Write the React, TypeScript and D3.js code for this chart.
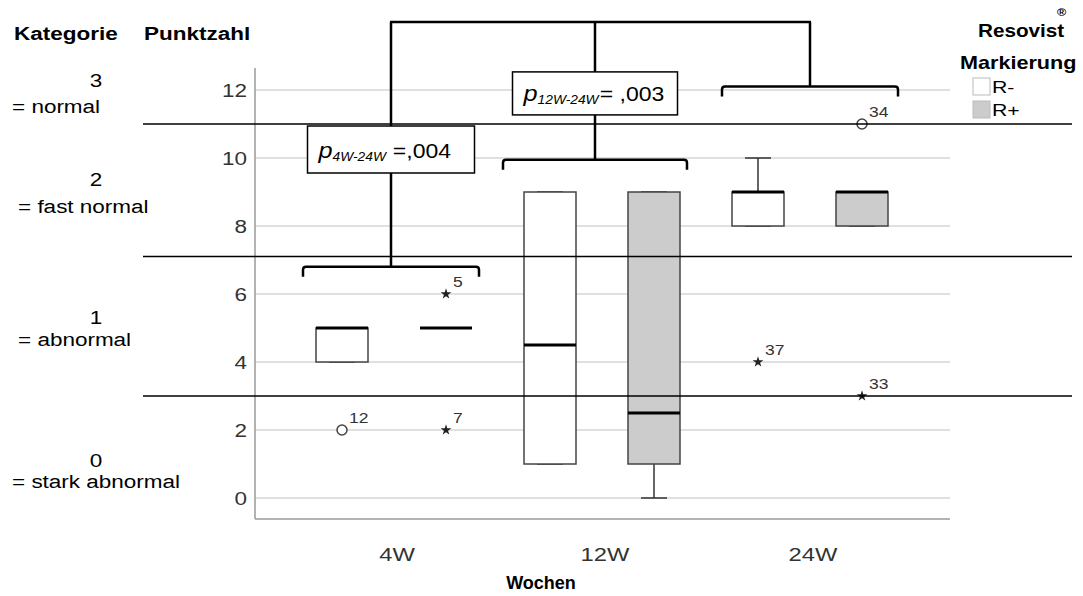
import React from "react";
import * as d3 from "d3";

// ---------- data ----------
const weeks = ["4W", "12W", "24W"];
const groups = ["R-", "R+"];
const groupFill = ["#ffffff", "#cccccc"];

// box statistics per week and group: [whiskerLow, q1, median, q3, whiskerHigh]
const boxR_minus = [
  [4, 4, 5, 5, 5],
  [1, 1, 4.5, 9, 9],
  [8, 8, 9, 9, 10],
];
const boxR_plus = [
  [5, 5, 5, 5, 5],
  [0, 1, 2.5, 9, 9],
  [8, 8, 9, 9, 9],
];

// outliers: week, group, value, case label, kind
const outlierWeek = ["4W", "4W", "4W", "24W", "24W", "24W"];
const outlierGroup = ["R-", "R+", "R+", "R-", "R+", "R+"];
const outlierValue = [2, 6, 2, 4, 11, 3];
const outlierLabel = ["12", "5", "7", "37", "34", "33"];
const outlierKind = ["circle", "star", "star", "star", "circle", "star"];

const yTicks = [0, 2, 4, 6, 8, 10, 12];
const categoryBounds = [11, 7.1, 3];
const categoryScores = ["3", "2", "1", "0"];
const categoryNames = ["= normal", "= fast normal", "= abnormal", "= stark abnormal"];

const bracketWeeks = ["4W", "12W", "24W"];
const bracketLevels = [6.8, 9.95, 12.1];
const topLevel = 14;

const pSubs = ["4W-24W", "12W-24W"];
const pValues = ["=,004", "= ,003"];

// ---------- layout ----------
const W = 1083;
const H = 596;
const SX = 1.25;
const FONT = "'Liberation Sans', Arial, Helvetica, sans-serif";

const y = d3.scaleLinear().domain([0, 12]).range([498, 90]);
const x = d3.scaleBand<string>().domain(weeks).range([290, 914]).padding(0);
const xg = d3.scalePoint<string>().domain(groups).range([-52, 52]);
const boxW = 52;
const axisX = 255;
const plotRight = 950;

function T({ x, y, anchor = "start", size = 17, weight = "normal", fill = "#000", style = "normal", sx = SX, children }: any) {
  return (
    <g transform={`translate(${x},${y}) scale(${sx},1)`}>
      <text
        x={0}
        y={0}
        textAnchor={anchor}
        fontSize={size}
        fontWeight={weight}
        fontStyle={style}
        fill={fill}
        fontFamily={FONT}
      >
        {children}
      </text>
    </g>
  );
}

const cx = (w: string) => (x(w) as number) + x.bandwidth() / 2;

export default function App() {
  const star = d3.symbol().type(d3.symbolStar).size(36)() as string;
  const boxes: any[] = [];
  weeks.forEach((w, i) => {
    [boxR_minus[i], boxR_plus[i]].forEach((s, gi) => {
      boxes.push({ w, g: groups[gi], s, fill: groupFill[gi] });
    });
  });

  const catTop = 12.9;
  const catBottom = -0.62;
  const edges = [catTop, ...categoryBounds, catBottom];
  const labelShift = [[-5, 21], [-4, 23], [-2, 20], [9, 30]];

  const pBoxW = [167, 165];
  const pBoxH = [47, 43];
  const pBoxCenterVal = [10.25, 11.9];

  return (
    <svg width={W} height={H} style={{ position: "absolute", left: 0, top: 0, background: "#fff" }}>
      <rect x={0} y={0} width={W} height={H} fill="#fff" />
      {/* gridlines */}
      {yTicks.map((t) => (
        <line key={t} x1={axisX} x2={plotRight} y1={y(t)} y2={y(t)} stroke="#d6d6d6" strokeWidth={1.5} />
      ))}
      {/* axes */}
      <line x1={axisX} x2={axisX} y1={y(12.65)} y2={y(-0.62)} stroke="#9a9a9a" strokeWidth={1.5} />
      <line x1={axisX} x2={plotRight} y1={y(-0.62)} y2={y(-0.62)} stroke="#9a9a9a" strokeWidth={1.5} />
      {yTicks.map((t) => (
        <T key={t} x={247} y={y(t) + 7} anchor="end" size={18} fill="#333">
          {t}
        </T>
      ))}
      {weeks.map((w) => (
        <T key={w} x={cx(w) + 3} y={561} anchor="middle" size={19} fill="#333">
          {w}
        </T>
      ))}
      <T x={541} y={589} anchor="middle" size={18} weight="bold" sx={1.0}>Wochen</T>

      {/* boxes */}
      {boxes.map((b, i) => {
        const c = cx(b.w) + (xg(b.g) as number);
        const [lo, q1, med, q3, hi] = b.s;
        return (
          <g key={i}>
            <line x1={c} x2={c} y1={y(hi)} y2={y(q3)} stroke="#333" strokeWidth={1.5} />
            <line x1={c} x2={c} y1={y(q1)} y2={y(lo)} stroke="#333" strokeWidth={1.5} />
            <line x1={c - boxW / 4} x2={c + boxW / 4} y1={y(hi)} y2={y(hi)} stroke="#333" strokeWidth={1.5} />
            <line x1={c - boxW / 4} x2={c + boxW / 4} y1={y(lo)} y2={y(lo)} stroke="#333" strokeWidth={1.5} />
            {q3 > q1 && (
              <rect x={c - boxW / 2} y={y(q3)} width={boxW} height={y(q1) - y(q3)} fill={b.fill} stroke="#444" strokeWidth={1.5} />
            )}
            <line x1={c - boxW / 2} x2={c + boxW / 2} y1={y(med)} y2={y(med)} stroke="#000" strokeWidth={3} />
          </g>
        );
      })}

      {/* outliers */}
      {outlierValue.map((v, i) => {
        const c = cx(outlierWeek[i]) + (xg(outlierGroup[i]) as number);
        const py = y(v);
        return (
          <g key={i}>
            {outlierKind[i] === "circle" ? (
              <circle cx={c} cy={py} r={5} fill="#fff" stroke="#444" strokeWidth={1.5} />
            ) : (
              <path d={star} transform={`translate(${c},${py})`} fill="#222" />
            )}
            <T x={c + 7} y={py - 7} size={14} fill="#333">{outlierLabel[i]}</T>
          </g>
        );
      })}

      {/* category divider lines */}
      {categoryBounds.map((b) => (
        <line key={b} x1={143} x2={1072} y1={y(b)} y2={y(b)} stroke="#000" strokeWidth={1.5} />
      ))}

      {/* brackets */}
      {bracketWeeks.map((w, i) => {
        const c = cx(w) + (i === 0 ? -3 : i === 1 ? -7 : 0);
        const by = y(bracketLevels[i]);
        const hw = i === 1 ? 92 : 88;
        return (
          <g key={w} fill="none" stroke="#000" strokeWidth={2.5}>
            <path d={`M${c - hw},${by + 10} L${c - hw},${by + 3} Q${c - hw},${by} ${c - hw + 3},${by} L${c + hw - 3},${by} Q${c + hw},${by} ${c + hw},${by + 3} L${c + hw},${by + 10}`} />
            <line x1={c} x2={c} y1={by} y2={y(topLevel)} />
          </g>
        );
      })}
      <line x1={cx("4W") - 3 - 1} x2={cx("24W") + 1} y1={y(topLevel)} y2={y(topLevel)} stroke="#000" strokeWidth={2.5} />

      {/* p-value boxes */}
      {pSubs.map((s, i) => {
        const c = cx(bracketWeeks[i]) + (i === 0 ? -3 : -7);
        const cyv = y(pBoxCenterVal[i]);
        return (
          <g key={s}>
            <rect x={c - pBoxW[i] / 2} y={cyv - pBoxH[i] / 2} width={pBoxW[i]} height={pBoxH[i]} fill="#fff" stroke="#000" strokeWidth={1.5} />
            <g transform={`translate(${c - pBoxW[i] / 2 + 11},${cyv + 8}) scale(1.15,1)`}>
              <text fontFamily={FONT} fill="#000">
                <tspan fontSize={22} fontStyle="italic">p</tspan>
                <tspan fontSize={12} fontStyle="italic" dy={3}>{s}</tspan>
                <tspan fontSize={20} dy={-3} dx={i === 0 ? 6 : 1}>{pValues[i]}</tspan>
              </text>
            </g>
          </g>
        );
      })}

      {/* left titles */}
      <T x={14} y={40} size={18} weight="bold">Kategorie</T>
      <T x={144} y={40} size={18} weight="bold">Punktzahl</T>
      {categoryScores.map((s, i) => {
        const mid = (y(edges[i]) + y(edges[i + 1])) / 2;
        return (
          <g key={s}>
            <T x={96} y={mid + labelShift[i][0]} anchor="middle" size={18}>{s}</T>
            <T x={i === 0 || i === 3 ? 12 : 18} y={mid + labelShift[i][1]} size={18}>{categoryNames[i]}</T>
          </g>
        );
      })}

      {/* legend */}
      <T x={978} y={37} size={18} weight="bold" sx={1.15}>Resovist</T>
      <T x={1057} y={16} size={10} weight="bold">®</T>
      <T x={960} y={69} size={18} weight="bold" sx={1.2}>Markierung</T>
      {groups.map((g, i) => (
        <g key={g}>
          <rect x={973} y={78 + i * 23} width={17} height={17} fill={groupFill[i]} stroke="#bbb" strokeWidth={1} />
          <T x={992} y={93 + i * 23} size={17}>{g}</T>
        </g>
      ))}
    </svg>
  );
}
